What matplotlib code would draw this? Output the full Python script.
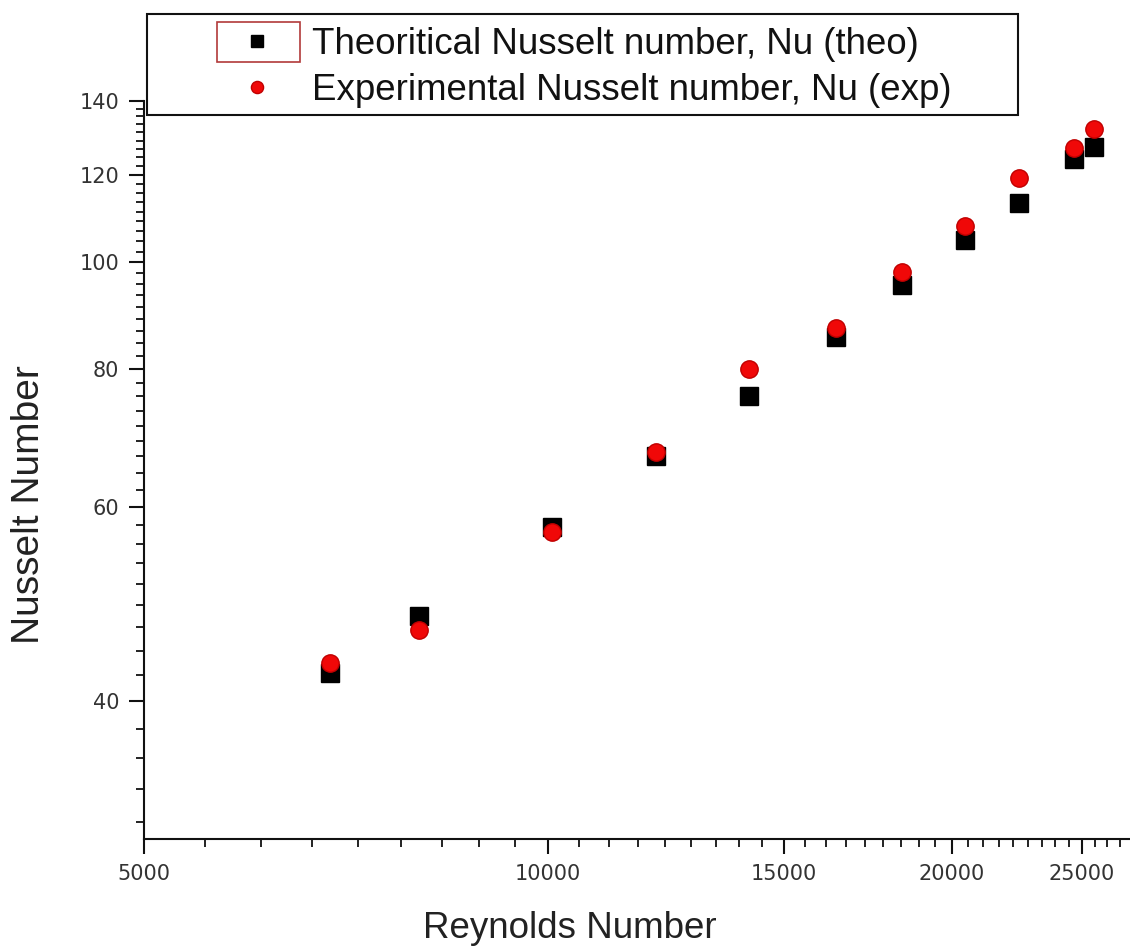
import numpy as np
import matplotlib
matplotlib.use("Agg")
import matplotlib.pyplot as plt
from matplotlib.ticker import FixedLocator, NullFormatter
from matplotlib.patches import Rectangle

# Reynolds numbers of the test runs
reynolds = [6876, 8015, 10063, 12037, 14110, 16389, 18365, 20453, 22457, 24666, 25506]
# Nusselt numbers from correlation and from measurement
nu_theo = [42.4, 47.8, 57.5, 66.7, 75.7, 85.5, 95.3, 104.7, 113.1, 124.1, 127.2]
nu_exp = [43.3, 46.4, 56.9, 67.3, 80.0, 87.2, 98.0, 107.9, 119.2, 126.9, 132.0]

x_major = [5000, 10000, 15000, 20000, 25000]
x_labels = ["5000", "10000", "15000", "20000", "25000"]
y_major = [40, 60, 80, 100, 120, 140]
y_labels = ["40", "60", "80", "100", "120", "140"]

label_theo = "Theoritical Nusselt number, Nu (theo)"
label_exp = "Experimental Nusselt number, Nu (exp)"

W, H = 1130, 950
fig = plt.figure(figsize=(W / 100, H / 100), dpi=100)

def fx(px):
    return px / W

def fy(py):
    return 1 - py / H

left, right, top, bottom = 144, 1130, 101, 839
ax = fig.add_axes([fx(left), fy(bottom), fx(right - left), (bottom - top) / H])
ax.set_xscale("log")
ax.set_yscale("log")
ax.set_xlim(5000, 27150)
ax.set_ylim(30, 140)

ax.plot(reynolds, nu_theo, linestyle="none", marker="s", markersize=13,
        color="black", markeredgecolor="black", label=label_theo, zorder=3)
ax.plot(reynolds, nu_exp, linestyle="none", marker="o", markersize=12.5,
        color="#f00808", markeredgecolor="#c00000", markeredgewidth=1,
        label=label_exp, zorder=4)

# Origin-style ticks: majors at linear steps, 8 evenly spaced minors between
ax.xaxis.set_major_locator(FixedLocator(x_major))
ax.set_xticklabels(x_labels)
x_minor = []
for a in x_major:
    step = 5000 / 9
    x_minor += [a + k * step for k in range(1, 9)]
ax.xaxis.set_minor_locator(FixedLocator(x_minor))
ax.xaxis.set_minor_formatter(NullFormatter())

ax.yaxis.set_major_locator(FixedLocator(y_major))
ax.set_yticklabels(y_labels)
y_minor = []
for a in [20] + y_major:
    step = 20 / 9
    y_minor += [a + k * step for k in range(1, 9)]
ax.yaxis.set_minor_locator(FixedLocator(y_minor))
ax.yaxis.set_minor_formatter(NullFormatter())

for s in ["top", "right"]:
    ax.spines[s].set_visible(False)
for s in ["left", "bottom"]:
    ax.spines[s].set_linewidth(1.5)
    ax.spines[s].set_color("#111111")

ax.tick_params(which="major", direction="out", length=11, width=1.5, color="#111111",
               labelsize=15, labelcolor="#333333", pad=7)
ax.tick_params(which="minor", direction="out", length=5.5, width=1.3, color="#111111")
for lab in ax.get_xticklabels() + ax.get_yticklabels():
    lab.set_family(["DejaVu Sans"])

sans = ["Liberation Sans", "DejaVu Sans"]
fig.text(fx(570), fy(928), "Reynolds Number", ha="center", va="center",
         fontsize=26.5, family=sans, color="#222222")
fig.text(fx(29), fy(505), "Nusselt Number", ha="center", va="center",
         rotation=90, fontsize=28, family=sans, color="#222222")

# Legend contents and its frame
fs = 26.4
fs_px = fs * 100 / 72
h = 1.0
marker_cx = 257
x0 = marker_cx - h * fs_px / 2
text_x = 312
hp = (text_x - x0 - h * fs_px) / fs_px
leg = ax.legend(loc="upper left", bbox_to_anchor=(fx(x0), fy(27)),
                bbox_transform=fig.transFigure, frameon=False, borderpad=0,
                handlelength=h, handletextpad=hp, labelspacing=0.3,
                prop=dict(family=sans, size=fs), borderaxespad=0,
                markerscale=0.7)
for t in leg.get_texts():
    t.set_color("#111111")
leg.set_zorder(6)

frame = Rectangle((fx(147), fy(115)), fx(1018 - 147), (115 - 14) / H,
                  transform=fig.transFigure, facecolor="white",
                  edgecolor="#111111", linewidth=1.5, zorder=5, clip_on=False)
ax.add_patch(frame)
mark_box = Rectangle((fx(217), fy(62)), fx(300 - 217), (62 - 22) / H,
                     transform=fig.transFigure, fill=False,
                     edgecolor="#b23a3a", linewidth=1.2, zorder=7, clip_on=False)
ax.add_patch(mark_box)

fig.savefig("out.png", dpi=100)
